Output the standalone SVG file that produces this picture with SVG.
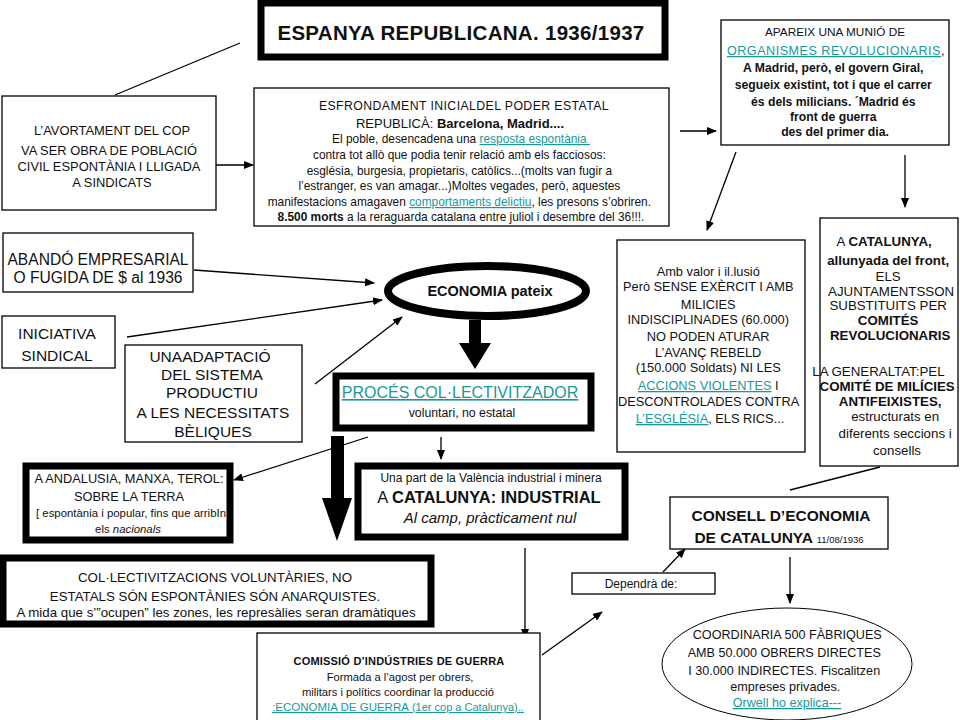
<svg xmlns="http://www.w3.org/2000/svg" width="960" height="720" viewBox="0 0 960 720">
<style>
text{font-family:"Liberation Sans",Arial,sans-serif;fill:#111;text-anchor:middle}
.thin{fill:#fff;stroke:#000;stroke-width:1.3}
.thick{fill:#fff;stroke:#000;stroke-width:7}
.b{font-weight:bold}
.lk{fill:#17999a;text-decoration:underline}
.con{stroke:#000;stroke-width:1.3;fill:none}
.arr{marker-end:url(#ah)}
</style>
<defs>
<marker id="ah" viewBox="0 0 10 8" refX="9" refY="4" markerWidth="10" markerHeight="8" markerUnits="userSpaceOnUse" orient="auto">
<path d="M0,0 L10,4 L0,8 z" fill="#000"/>
</marker>
</defs>
<rect width="960" height="720" fill="#fff"/>

<g id="connectors">
<line class="con" x1="240" y1="43" x2="115" y2="95"/>
<line class="con arr" x1="216" y1="165" x2="253" y2="165"/>
<line class="con arr" x1="680" y1="131" x2="716" y2="131"/>
<line class="con arr" x1="736" y1="152" x2="707" y2="230"/>
<line class="con arr" x1="905" y1="155" x2="905" y2="207"/>
<line class="con arr" x1="194" y1="270" x2="374" y2="283"/>
<line class="con arr" x1="127" y1="337" x2="382" y2="300"/>
<line class="con arr" x1="315" y1="384" x2="402" y2="317"/>
<polygon points="469,320 481,320 481,343 491,343 475,369 459,343 469,343" fill="#000"/>
<polygon points="331,436 344,436 344,498 352,498 337,541 322,498 331,498" fill="#000"/>
<line class="con arr" x1="368" y1="437" x2="234" y2="480"/>
<line class="con arr" x1="441" y1="437" x2="441" y2="459"/>
<line class="con arr" x1="525" y1="548" x2="525" y2="638"/>
<line class="con arr" x1="542" y1="655" x2="602" y2="612"/>
<line class="con arr" x1="663" y1="572" x2="685" y2="549"/>
<line class="con" x1="790" y1="490" x2="880" y2="467"/>
<line class="con arr" x1="790" y1="557" x2="790" y2="603"/>
</g>

<g id="title">
<rect class="thick" x="261" y="3" width="404" height="54" stroke-width="6"/>
<text x="461" y="40" class="b" font-size="20.5" letter-spacing="0.3">ESPANYA REPUBLICANA.  1936/1937</text>
</g>

<g id="avortament">
<rect class="thin" x="2" y="96" width="214" height="114"/>
<text font-size="12.9"><tspan x="112" y="135">L’AVORTAMENT  DEL COP</tspan><tspan x="109" y="155">VA SER OBRA DE POBLACIÓ</tspan><tspan x="109" y="171">CIVIL  ESPONTÀNIA  I LLIGADA</tspan><tspan x="112" y="187">A SINDICATS</tspan></text>
</g>

<g id="esfrondament">
<rect class="thin" x="254" y="88" width="415" height="138"/>
<text font-size="12.3" letter-spacing="0.4"><tspan x="464" y="110">ESFRONDAMENT  INICIALDEL PODER ESTATAL</tspan></text>
<text font-size="13"><tspan x="460" y="128">REPUBLICÀ:  <tspan class="b">Barcelona, Madrid....</tspan></tspan></text>
<text font-size="11.9">
<tspan x="461" y="143">El poble, desencadena una <tspan class="lk">resposta espontània </tspan></tspan>
<tspan x="461" y="159">contra tot allò que podia tenir relació amb els facciosos:</tspan>
<tspan x="461" y="175">església, burgesia, propietaris, catòlics...(molts van fugir a</tspan>
<tspan x="461" y="190">l’estranger, es van amagar...)Moltes vegades, però, aquestes</tspan>
<tspan x="461" y="206">manifestacions amagaven <tspan class="lk">comportaments delictiu</tspan>, les presons  s’obriren.</tspan>
<tspan x="461" y="221"><tspan class="b">8.500 morts</tspan> a la reraguarda catalana entre juliol i desembre del 36!!!.</tspan>
</text>
</g>

<g id="apareix">
<rect class="thin" x="721" y="20" width="228" height="125"/>
<text font-size="11.8"><tspan x="835" y="36">APAREIX UNA MUNIÓ  DE</tspan></text>
<text font-size="12.6" letter-spacing="0.5"><tspan x="836" y="55"><tspan class="lk">ORGANISMES  REVOLUCIONARIS</tspan>,</tspan></text>
<text font-size="12.2" class="b">
<tspan x="835" y="72">A Madrid, però, el govern Giral,</tspan>
<tspan x="835" y="89">segueix existint, tot i que el carrer</tspan>
<tspan x="835" y="106">és dels milicians. ´Madrid és</tspan>
<tspan x="835" y="121">front de guerra</tspan>
<tspan x="835" y="136">des del primer dia.</tspan>
</text>
</g>

<g id="abando">
<rect class="thin" x="3" y="233" width="190" height="59"/>
<text font-size="15.6"><tspan x="98" y="265">ABANDÓ EMPRESARIAL</tspan><tspan x="98" y="283">O  FUGIDA DE $ al 1936</tspan></text>
</g>

<g id="iniciativa">
<rect class="thin" x="2" y="316" width="113" height="52"/>
<text font-size="15.5"><tspan x="57" y="339">INICIATIVA</tspan><tspan x="57" y="361">SINDICAL</tspan></text>
</g>

<g id="adaptacio">
<rect class="thin" x="125" y="345" width="177" height="97"/>
<text font-size="15.5"><tspan x="210" y="362">UNAADAPTACIÓ</tspan><tspan x="212" y="380">DEL SISTEMA</tspan><tspan x="212" y="398">PRODUCTIU</tspan><tspan x="213" y="418">A LES NECESSITATS</tspan><tspan x="213" y="437">BÈLIQUES</tspan></text>
</g>

<g id="economia">
<ellipse cx="487" cy="291" rx="99" ry="25" fill="#fff" stroke="#000" stroke-width="8"/>
<text x="490" y="296" class="b" font-size="14.5">ECONOMIA pateix</text>
</g>

<g id="proces">
<rect class="thick" x="336" y="376" width="255" height="52"/>
<text font-size="16" class="lk" x="460" y="398">PROCÉS COL·LECTIVITZADOR </text>
<text font-size="12.3" x="462" y="417">voluntari, no estatal</text>
</g>

<g id="andalusia">
<rect class="thick" x="26" y="466" width="204" height="74" stroke-width="6"/>
<text font-size="12.8"><tspan x="129" y="483">A ANDALUSIA,  MANXA, TEROL:</tspan><tspan x="129" y="501">SOBRE LA TERRA</tspan></text>
<text font-size="11.4"><tspan x="131" y="517">[ espontània i popular, fins que arribIn</tspan><tspan x="128" y="533">els <tspan font-style="italic">nacionals</tspan></tspan></text>
</g>

<g id="catind">
<rect class="thick" x="358" y="466" width="267" height="71" stroke-width="6"/>
<text font-size="12" x="491" y="482">Una part de la València industrial i minera</text>
<text font-size="16.5" x="489" y="503">A <tspan class="b">CATALUNYA: INDUSTRIAL</tspan></text>
<text font-size="15" font-style="italic" x="490" y="523">Al camp, pràcticament nul</text>
</g>

<g id="collectivitzacions">
<rect class="thick" x="3" y="558" width="428" height="66"/>
<text font-size="13.3"><tspan x="215" y="582">COL·LECTIVITZACIONS   VOLUNTÀRIES,  NO</tspan><tspan x="215" y="601">ESTATALS  SÓN ESPONTÀNIES SÓN ANARQUISTES.</tspan><tspan x="216" y="617">A mida que s’”ocupen” les zones, les represàlies  seran  dramàtiques</tspan></text>
</g>

<g id="comissio">
<rect class="thin" x="257" y="633" width="283" height="90"/>
<text font-size="11" class="b" x="399" y="665" letter-spacing="0.2">COMISSIÓ D’INDÚSTRIES DE GUERRA</text>
<text font-size="11.2"><tspan x="400" y="681">Formada a l’agost per obrers,</tspan><tspan x="398" y="696">militars i polítics coordinar la producció</tspan></text>
<text font-size="11" class="lk" x="398" y="711"><tspan font-size="11.5">:ECONOMIA DE GUERRA</tspan> (1er cop a Catalunya)..</text>
</g>

<g id="ambvalor">
<rect class="thin" x="617" y="240" width="188" height="212"/>
<text font-size="12.8">
<tspan x="710" y="276">Amb valor i il.lusió</tspan>
<tspan x="710" y="291">Però SENSE EXÈRCIT  I AMB</tspan>
<tspan x="710" y="309">MILICIES</tspan>
<tspan x="710" y="324">INDISCIPLINADES  (60.000)</tspan>
<tspan x="710" y="341">NO PODEN ATURAR</tspan>
<tspan x="710" y="357">L’AVANÇ REBELD</tspan>
<tspan x="710" y="372">(150.000 Soldats)  NI LES</tspan>
<tspan x="710" y="390"><tspan class="lk">ACCIONS  VIOLENTES</tspan> I</tspan>
<tspan x="710" y="406">DESCONTROLADES  CONTRA</tspan>
<tspan x="710" y="423"><tspan class="lk">L’ESGLÉSIA</tspan>, ELS RICS...</tspan>
</text>
</g>

<g id="catalunya">
<rect class="thin" x="820" y="218" width="138" height="248"/>
<text font-size="13.3">
<tspan x="886" y="246">A <tspan class="b">CATALUNYA,</tspan></tspan>
<tspan x="890" y="265" class="b">allunyada del front,</tspan>
<tspan x="890" y="281">ELS</tspan>
<tspan x="893" y="296">AJUNTAMENTSSON</tspan>
<tspan x="890" y="310">SUBSTITUITS  PER</tspan>
<tspan x="890" y="325" class="b">COMITÉS</tspan>
<tspan x="892" y="340" class="b">REVOLUCIONARIS</tspan>
<tspan x="880" y="376">LA GENERALTAT:PEL</tspan>
<tspan x="889" y="391" class="b">COMITÉ DE MILÍCIES</tspan>
<tspan x="892" y="406" class="b">ANTIFEIXISTES,</tspan>
<tspan x="897" y="421">estructurats en</tspan>
<tspan x="897" y="438">diferents seccions i</tspan>
<tspan x="897" y="455">consells</tspan>
</text>
</g>

<g id="dependra">
<rect class="thin" x="572" y="573" width="143" height="21"/>
<text font-size="12" x="641" y="588">Dependrà de:</text>
</g>

<g id="consell">
<rect class="thin" x="670" y="497" width="218" height="52"/>
<text font-size="15.5" class="b" x="781" y="521">CONSELL D’ECONOMIA</text>
<text font-size="15.5" x="779" y="543"><tspan class="b">DE CATALUNYA </tspan><tspan font-size="9.5">11/08/1936</tspan></text>
</g>

<g id="coordinaria">
<ellipse cx="787" cy="664" rx="125" ry="56" fill="#fff" stroke="#000" stroke-width="1"/>
<text font-size="12.6">
<tspan x="789" y="639">COORDINARIA  500 FÀBRIQUES</tspan>
<tspan x="786" y="657">AMB 50.000 OBRERS DIRECTES</tspan>
<tspan x="786" y="675">I 30.000 INDIRECTES.  Fiscalitzen</tspan>
<tspan x="787" y="691">empreses privades.</tspan>
<tspan x="787" y="707" class="lk">Orwell ho explica---</tspan>
</text>
</g>
</svg>
